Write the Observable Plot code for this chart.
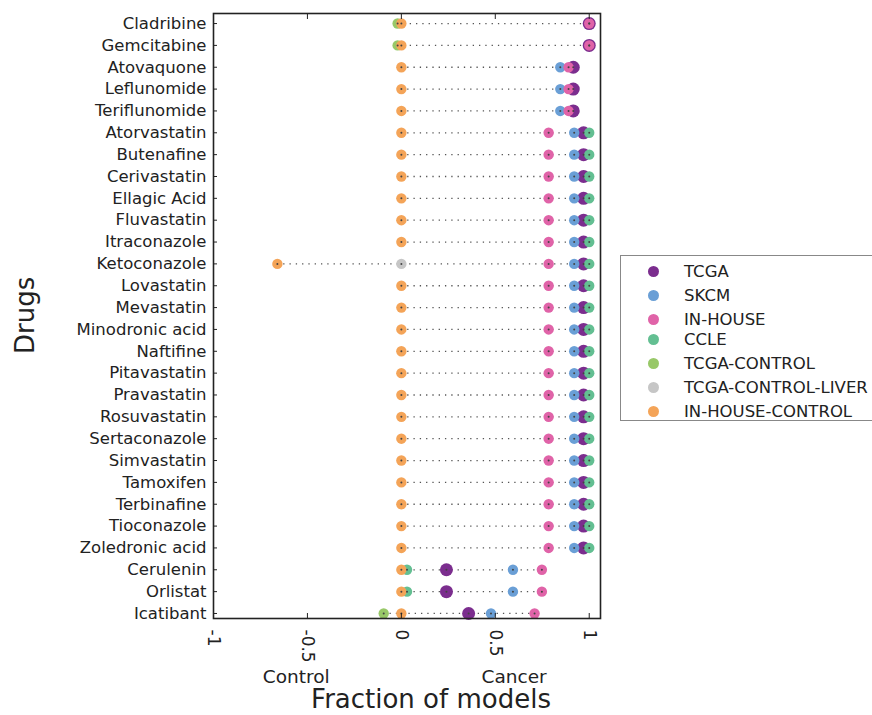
<!DOCTYPE html>
<html>
<head>
<meta charset="utf-8">
<script src="https://cdn.jsdelivr.net/npm/d3@7"></script>
<script src="https://cdn.jsdelivr.net/npm/@observablehq/plot@0.6"></script>
<style>
  html, body { margin: 0; padding: 0; background: #fff; }
  #wrap { position: relative; width: 872px; height: 715px; overflow: hidden; font-family: "DejaVu Sans", sans-serif; }
  #wrap svg { display: block; overflow: visible; }
  #legend { position: absolute; left: 620px; top: 255px; width: 280px; height: 166px; border: 1px solid #888; box-sizing: border-box; }
  .item { position: absolute; left: 0; height: 20px; display: flex; align-items: center; font-size: 16.5px; color: #222; white-space: nowrap; }
  .sw { width: 11px; height: 11px; border-radius: 50%; margin-left: 27px; margin-right: 25px; }
</style>
</head>
<body>
<div id="wrap"><div id="legend"></div></div>
<script>
const drugs = ["Cladribine","Gemcitabine","Atovaquone","Leflunomide","Teriflunomide","Atorvastatin","Butenafine","Cerivastatin","Ellagic Acid","Fluvastatin","Itraconazole","Ketoconazole","Lovastatin","Mevastatin","Minodronic acid","Naftifine","Pitavastatin","Pravastatin","Rosuvastatin","Sertaconazole","Simvastatin","Tamoxifen","Terbinafine","Tioconazole","Zoledronic acid","Cerulenin","Orlistat","Icatibant"];

const seriesNames = ["TCGA","SKCM","IN-HOUSE","CCLE","TCGA-CONTROL","TCGA-CONTROL-LIVER","IN-HOUSE-CONTROL"];

// one value per drug (null = not shown)
const tcga      = [1, 1, 0.915, 0.915, 0.915, 0.97,0.97,0.97,0.97,0.97,0.97,0.97,0.97,0.97,0.97,0.97,0.97,0.97,0.97,0.97,0.97,0.97,0.97,0.97,0.97, 0.24, 0.24, 0.358];
const skcm      = [null, null, 0.846, 0.846, 0.846, 0.92,0.92,0.92,0.92,0.92,0.92,0.92,0.92,0.92,0.92,0.92,0.92,0.92,0.92,0.92,0.92,0.92,0.92,0.92,0.92, 0.594, 0.594, 0.477];
const inhouse   = [1, 1, 0.89, 0.89, 0.89, 0.784,0.784,0.784,0.784,0.784,0.784,0.784,0.784,0.784,0.784,0.784,0.784,0.784,0.784,0.784,0.784,0.784,0.784,0.784,0.784, 0.748, 0.748, 0.709];
const ccle      = [null, null, null, null, null, 1,1,1,1,1,1,1,1,1,1,1,1,1,1,1,1,1,1,1,1, 0.03, 0.03, null];
const tcgaCtrl  = [-0.02, -0.02, null,null,null, null,null,null,null,null,null,null,null,null,null,null,null,null,null,null,null,null,null,null,null, null, null, -0.094];
const liverCtrl = [null,null,null,null,null, null,null,null,null,null,null,0,null,null,null,null,null,null,null,null,null,null,null,null,null, null,null,null];
const inhouseCtrl = [0,0,0,0,0, 0,0,0,0,0,0,-0.66,0,0,0,0,0,0,0,0,0,0,0,0,0, 0,0,0];

const xTicks = [-1, -0.5, 0, 0.5, 1];
const sideLabels = [{label: "Control", x: -0.56}, {label: "Cancer", x: 0.6}];

const colors = ["#7b2d8e","#6a9fd6","#e063a8","#63bf92","#98c868","#c6c6c6","#f4a458"];

const seriesValues = [tcga, skcm, inhouse, ccle, tcgaCtrl, liverCtrl, inhouseCtrl];
const points = [];
seriesValues.forEach((vals, si) => {
  vals.forEach((v, i) => { if (v !== null) points.push({row: i, drug: drugs[i], series: seriesNames[si], value: v}); });
});
const ranges = drugs.map((d, i) => {
  const vs = points.filter(p => p.row === i).map(p => p.value);
  return {row: i, min: d3.min(vs), max: d3.max(vs)};
});
const rowIdx = d3.range(drugs.length);

const chart = Plot.plot({
  width: 872,
  height: 715,
  marginLeft: 213,
  marginRight: 272,
  marginTop: 13,
  marginBottom: 97,
  style: {fontFamily: "DejaVu Sans, sans-serif", color: "#222", background: "#fff"},
  x: {domain: [-1, 1.06]},
  // row index, first drug at the top
  y: {type: "linear", domain: [drugs.length - 1 + 0.23, -0.46]},
  color: {domain: seriesNames, range: colors},
  r: {type: "identity"},
  marks: [
    Plot.ruleY(ranges, {y: "row", x1: "min", x2: "max", stroke: "#555", strokeWidth: 1.3, strokeDasharray: "1.3,5"}),
    Plot.dot(points, {x: "value", y: "row", fill: "series", r: d => d.series === "TCGA" ? 6.5 : 5.2, stroke: "none"}),
    Plot.dot(points, {x: "value", y: "row", r: 1, fill: "#444"}),
    Plot.frame({stroke: "#222", strokeWidth: 1.6}),
    Plot.axisY({anchor: "left", ticks: rowIdx, tickSize: -4, tickPadding: 11, fontSize: 16.5, label: null, tickFormat: i => drugs[i]}),
    Plot.axisX({anchor: "top", ticks: xTicks, tickSize: -5, tickFormat: () => "", label: null}),
    Plot.axisX({anchor: "bottom", ticks: xTicks, tickSize: -5, tickPadding: 16, tickRotate: 90, fontSize: 17, label: null, tickFormat: d => String(d)}),
    Plot.text(sideLabels, {x: "x", text: "label", frameAnchor: "bottom", dy: 64, lineAnchor: "bottom", fontSize: 18.5}),
    Plot.text(["Fraction of models"], {frameAnchor: "bottom", dx: 24, dy: 89, lineAnchor: "bottom", fontSize: 26}),
    Plot.text(["Drugs"], {frameAnchor: "left", dx: -188, dy: 38, rotate: -90, fontSize: 26})
  ]
});
document.getElementById("wrap").prepend(chart);

const legendYs = [270, 294, 318, 338, 362, 386, 410];
const legend = document.getElementById("legend");
seriesNames.forEach((name, i) => {
  const it = document.createElement("div");
  it.className = "item";
  it.style.top = (legendYs[i] - 255 - 10) + "px";
  it.innerHTML = `<span class="sw" style="background:${colors[i]}"></span><span>${name}</span>`;
  legend.appendChild(it);
});
</script>
</body>
</html>
